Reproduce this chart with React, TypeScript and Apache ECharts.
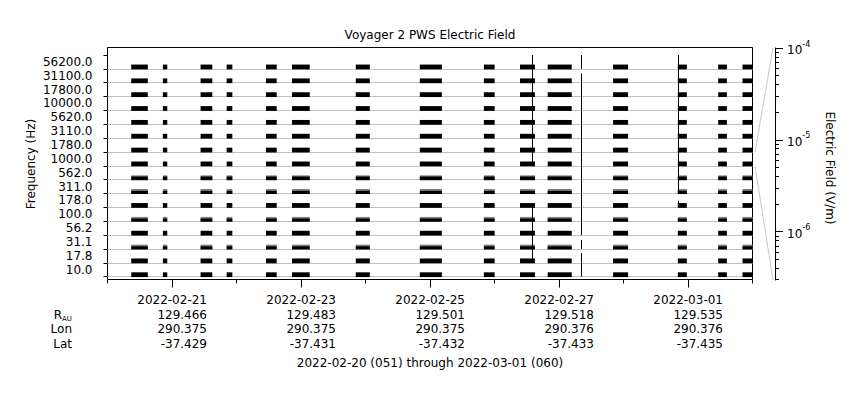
import React, { useEffect, useRef } from "react";
import * as echarts from "echarts";

const FONT = "DejaVu Sans";
const chartTitle = "Voyager 2 PWS Electric Field";
const footerText = "2022-02-20 (051) through 2022-03-01 (060)";
const yTitle = "Frequency (Hz)";
const cbTitle = "Electric Field (V/m)";
const startDate = "2022-02-20";
const endDate = "2022-03-02";

// channels, low to high
const frequencies = [10.0, 17.8, 31.1, 56.2, 100.0, 178.0, 311.0, 562.0, 1000.0, 1780.0, 3110.0, 5620.0, 10000.0, 17800.0, 31100.0, 56200.0];

// data-present intervals (UTC)
const blockStarts = [
  "2022-02-20T08:50", "2022-02-20T20:36", "2022-02-21T10:38", "2022-02-21T20:20", "2022-02-22T10:58",
  "2022-02-22T20:39", "2022-02-23T20:23", "2022-02-24T20:13", "2022-02-25T20:03", "2022-02-26T09:30",
  "2022-02-26T19:47", "2022-02-27T20:07", "2022-02-28T20:13", "2022-03-01T11:14", "2022-03-01T20:17",
];
const blockEnds = [
  "2022-02-20T15:00", "2022-02-20T22:14", "2022-02-21T15:00", "2022-02-21T22:27", "2022-02-22T14:57",
  "2022-02-23T03:15", "2022-02-24T01:36", "2022-02-25T04:25", "2022-02-26T00:03", "2022-02-26T15:03",
  "2022-02-27T04:44", "2022-02-28T01:42", "2022-02-28T23:34", "2022-03-01T14:28", "2022-03-02T00:00",
];

// typical field level per channel (V/m): dense core and fluctuating peak
const coreField = [1.8e-6, 1.8e-6, 9e-7, 1.8e-6, 9e-7, 1.8e-6, 9e-7, 1.1e-6, 1.8e-6, 1.8e-6, 1.8e-6, 1.8e-6, 1.8e-6, 1.8e-6, 1.8e-6, 1.8e-6];
const peakField = [1.8e-6, 1.8e-6, 1.8e-6, 1.8e-6, 1.8e-6, 1.8e-6, 2.0e-6, 1.8e-6, 1.8e-6, 1.8e-6, 1.8e-6, 1.8e-6, 1.8e-6, 1.8e-6, 1.8e-6, 1.8e-6];

// impulsive events
const spikeTimes = ["2022-02-26T14:03", "2022-02-27T08:18", "2022-02-28T20:13"];
const spikePeaks = [
  [0, 1e-4, 1e-4, 1e-4, 1e-4, 0, 0, 0, 1e-4, 1e-4, 1e-4, 1e-4, 1e-4, 1e-4, 1e-4, 1e-4],
  [1e-4, 1.7e-5, 1.3e-5, 1e-4, 1e-4, 1e-4, 1e-4, 1e-4, 1e-4, 1e-4, 1e-4, 1e-4, 1e-4, 1e-4, 1.5e-5, 1e-4],
  [0, 0, 0, 0, 0, 5e-6, 1e-4, 1e-4, 1e-4, 1e-4, 1e-4, 1e-4, 1e-4, 1e-4, 1e-4, 1e-4],
];

// ephemeris rows
const labelDates = ["2022-02-21", "2022-02-23", "2022-02-25", "2022-02-27", "2022-03-01"];
const rAU = [129.466, 129.483, 129.501, 129.518, 129.535];
const lon = [290.375, 290.375, 290.375, 290.376, 290.376];
const lat = [-37.429, -37.431, -37.432, -37.433, -37.435];

const fieldMin = 2.97e-7;
const fieldMax = 1e-4;
const scaleChannel = 1000.0;

const ms = (s: string) => Date.parse(s.length === 10 ? s + "T00:00:00Z" : s + ":00Z");
const DAY = 86400000;
const T0 = ms(startDate);
const T1 = ms(endDate);
const LMIN = Math.log10(fieldMin);
const LMAX = Math.log10(fieldMax);
const labelTimes = labelDates.map(ms);
const dayTicks: number[] = [];
for (let t = T0; t <= T1; t += DAY) dayTicks.push(t);
const majorLog = [-6, -5, -4];
const minorLog: number[] = [];
for (let d = -7; d <= -5; d++) for (let m = 2; m <= 9; m++) {
  const v = Math.log10(m * Math.pow(10, d));
  if (v >= LMIN - 1e-9 && v <= LMAX) minorLog.push(v);
}

const barData: number[][] = [];
blockStarts.forEach((s, i) => {
  frequencies.forEach((_, c) => {
    barData.push([ms(s), ms(blockEnds[i]), c, coreField[c], peakField[c]]);
  });
});
const spikeData: number[][] = [];
spikeTimes.forEach((s, i) => {
  spikePeaks[i].forEach((p, c) => {
    if (p > 0) spikeData.push([ms(s), c, p]);
  });
});

const PLOT_L = 107.5, PLOT_T = 47.5, PLOT_W = 645, PLOT_H = 232;
const DATA_T = 55, DATA_H = 221.6;
const CB_L = 775, CB_T = 48, CB_H = 232;

const txt = { fontFamily: FONT, fontSize: 12, color: "#000" };

function xLabel(v: number) {
  const i = labelTimes.findIndex((t) => Math.abs(t - v) < 1000);
  if (i < 0) return "";
  return `{d|${labelDates[i]}}\n{v|${rAU[i].toFixed(3)}}\n{v|${lon[i].toFixed(3)}}\n{v|${lat[i].toFixed(3)}}`;
}

function buildOption(extra: any[]) {
  const rowStyle = { width: 70, align: "right", lineHeight: 14.7, fontSize: 12, fontFamily: FONT, color: "#000" };
  const graphic: any[] = [
    { type: "text", x: 31, y: 164, rotation: Math.PI / 2, style: { text: yTitle, font: `12px "${FONT}"`, fill: "#000", align: "center", verticalAlign: "middle" } },
    { type: "text", x: 830, y: 168, rotation: -Math.PI / 2, style: { text: cbTitle, font: `12px "${FONT}"`, fill: "#000", align: "center", verticalAlign: "middle" } },
    { type: "text", x: 62, y: 314.7, style: { text: "R", font: `12px "${FONT}"`, fill: "#000", align: "right", verticalAlign: "middle" } },
    { type: "text", x: 72, y: 318.5, style: { text: "AU", font: `7px "${FONT}"`, fill: "#000", align: "right", verticalAlign: "middle" } },
    { type: "text", x: 72, y: 329.4, style: { text: "Lon", font: `12px "${FONT}"`, fill: "#000", align: "right", verticalAlign: "middle" } },
    { type: "text", x: 72, y: 344.1, style: { text: "Lat", font: `12px "${FONT}"`, fill: "#000", align: "right", verticalAlign: "middle" } },
    { type: "text", x: 430, y: 362.5, style: { text: footerText, font: `12px "${FONT}"`, fill: "#000", align: "center", verticalAlign: "middle" } },
    ...extra,
  ];
  const g = { outerBoundsMode: "none", containLabel: false };
  return {
    animation: false,
    textStyle: { fontFamily: FONT },
    title: { text: chartTitle, left: "center", top: 24, textStyle: { fontSize: 12, fontWeight: "normal", color: "#000", fontFamily: FONT } },
    grid: [
      { ...g, left: PLOT_L, top: PLOT_T, width: PLOT_W, height: PLOT_H, show: true, borderColor: "#000", borderWidth: 1, backgroundColor: "transparent" },
      { ...g, left: PLOT_L, top: DATA_T, width: PLOT_W, height: DATA_H },
      { ...g, left: CB_L, top: CB_T, width: 1, height: CB_H },
    ],
    xAxis: [
      { gridIndex: 0, type: "value", position: "bottom", min: T0, max: T1, interval: DAY, axisLine: { show: false }, axisTick: { show: true, length: 4, customValues: dayTicks, lineStyle: { color: "#000" } }, axisLabel: { show: false }, splitLine: { show: false } },
      {
        gridIndex: 0, type: "value", position: "bottom", offset: 0, min: T0, max: T1, interval: DAY, axisLine: { show: false },
        axisTick: { show: true, length: 8, customValues: labelTimes, lineStyle: { color: "#000" } },
        axisLabel: { show: true, customValues: labelTimes, margin: 13, formatter: xLabel, rich: { d: rowStyle, v: rowStyle }, ...txt },
        splitLine: { show: false },
      },
      { gridIndex: 1, type: "value", min: T0, max: T1, show: false },
      { gridIndex: 2, type: "value", min: 0, max: 1, show: false },
    ],
    yAxis: [
      { gridIndex: 0, type: "value", min: 0, max: 1, show: false },
      {
        gridIndex: 1, type: "category", position: "left", data: frequencies.map((f) => f.toFixed(1)), boundaryGap: true,
        axisLine: { show: false },
        axisTick: { show: true, length: 4, interval: 0, lineStyle: { color: "#000" } },
        axisLabel: { show: true, interval: 0, margin: 15, padding: [0, 0, 2, 0], ...txt },
        splitLine: { show: true, interval: 0, showMaxLine: false, showMinLine: true, lineStyle: { color: "#c0c0c0", width: 1 } },
      },
      {
        gridIndex: 2, type: "value", position: "right", min: LMIN, max: LMAX,
        axisLine: { show: true, lineStyle: { color: "#000" } },
        axisTick: { show: true, length: 4, customValues: minorLog, lineStyle: { color: "#000" } },
        axisLabel: { show: false }, splitLine: { show: false },
      },
      {
        gridIndex: 2, type: "value", position: "right", offset: 0, min: LMIN, max: LMAX,
        axisLine: { show: false },
        axisTick: { show: true, length: 7, customValues: majorLog, lineStyle: { color: "#000" } },
        axisLabel: {
          show: true, customValues: majorLog, margin: 11,
          formatter: (v: number) => `{b|10}{s|${Math.round(v)}}`,
          rich: {
            b: { fontSize: 12, fontFamily: FONT, color: "#000", lineHeight: 16, verticalAlign: "bottom" },
            s: { fontSize: 8, fontFamily: FONT, color: "#000", lineHeight: 16, verticalAlign: "top" },
          },
        },
        splitLine: { show: false },
      },
    ],
    series: [
      {
        type: "custom", xAxisIndex: 2, yAxisIndex: 1, data: barData, encode: { x: [0, 1], y: 2 }, clip: false,
        renderItem: (params: any, api: any) => {
          const ch = api.value(2);
          const a = api.coord([api.value(0), ch]);
          const b = api.coord([api.value(1), ch]);
          const h = api.size([0, 1])[1];
          const base = a[1] + h / 2;
          const yOf = (E: number) => base - (h * (Math.log10(E) - LMIN)) / (LMAX - LMIN);
          const core = api.value(3), peak = api.value(4);
          const w = b[0] - a[0];
          const children: any[] = [];
          if (peak > core) children.push({ type: "rect", shape: { x: a[0], y: yOf(peak), width: w, height: base + 0.5 - yOf(peak) }, style: { fill: "#808080" } });
          children.push({ type: "rect", shape: { x: a[0], y: yOf(core), width: w, height: base + 0.5 - yOf(core) }, style: { fill: "#000" } });
          return { type: "group", children };
        },
      },
      {
        type: "custom", xAxisIndex: 2, yAxisIndex: 1, data: spikeData, encode: { x: 0, y: 1 }, clip: false,
        renderItem: (params: any, api: any) => {
          const ch = api.value(1);
          const p = api.coord([api.value(0), ch]);
          const h = api.size([0, 1])[1];
          const base = p[1] + h / 2;
          const top = base - (h * (Math.log10(api.value(2)) - LMIN)) / (LMAX - LMIN);
          const x = Math.round(p[0]) + 0.5;
          return { type: "line", shape: { x1: x, y1: base, x2: x, y2: top }, style: { stroke: "#000", lineWidth: 1 } };
        },
      },
    ],
    graphic,
  };
}

export default function App() {
  const ref = useRef<HTMLDivElement>(null);
  useEffect(() => {
    document.body.style.margin = "0";
    const chart = echarts.init(ref.current!, null, { renderer: "svg" });
    chart.setOption(buildOption([]));
    const idx = frequencies.indexOf(scaleChannel);
    const c0 = chart.convertToPixel({ yAxisIndex: 1 }, idx) as number;
    const c1 = chart.convertToPixel({ yAxisIndex: 1 }, idx + 1) as number;
    const h = Math.abs(c1 - c0);
    const sTop = c0 - h / 2, sBot = c0 + h / 2;
    const cTop = chart.convertToPixel({ yAxisIndex: 2 }, LMAX) as number;
    const cBot = chart.convertToPixel({ yAxisIndex: 2 }, LMIN) as number;
    const xR = (chart.convertToPixel({ xAxisIndex: 0 }, T1) as number) + 2.5;
    const xC = CB_L + 1 - 3;
    const ls = { stroke: "#c8c8c8", lineWidth: 1 };
    chart.setOption(buildOption([
      { type: "line", shape: { x1: xR, y1: sTop, x2: xC, y2: cTop }, style: ls },
      { type: "line", shape: { x1: xR, y1: sBot, x2: xC, y2: cBot }, style: ls },
    ]));
    return () => chart.dispose();
  }, []);
  return <div ref={ref} style={{ width: 860, height: 400 }} />;
}
